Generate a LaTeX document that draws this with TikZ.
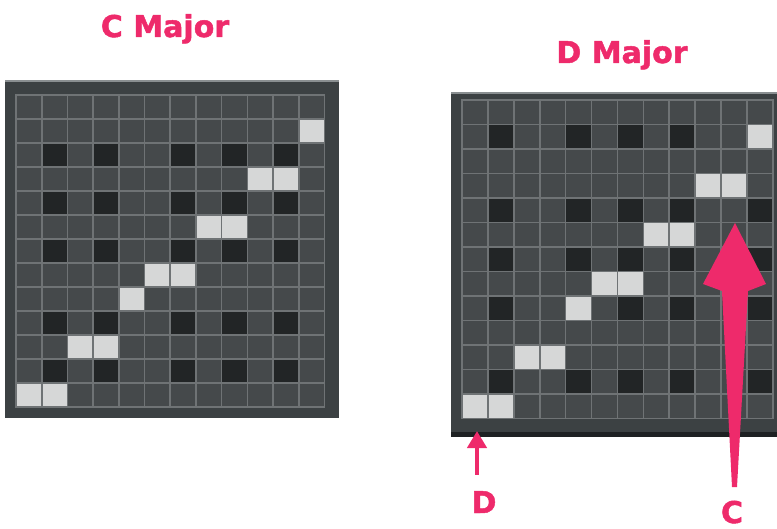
\documentclass[tikz,border=0pt]{standalone}
\usepackage{fontspec}
\setmainfont{DejaVu Sans}
\newfontfamily\headfont[BoldFeatures={FakeBold=1.6}]{DejaVu Sans}
\usetikzlibrary{arrows.meta,positioning}
\definecolor{framegray}{HTML}{3C4143}
\definecolor{framelight}{HTML}{8A8F91}
\definecolor{framedark}{HTML}{1E2123}
\definecolor{cellgray}{HTML}{45494B}
\definecolor{gridgray}{HTML}{6F7375}
\definecolor{keyblack}{HTML}{222526}
\definecolor{notewhite}{HTML}{D6D7D7}
\definecolor{markpink}{HTML}{EE2A6B}
\newcommand{\chordnotes}{11/1,9/3,10/3,7/5,8/5,5/7,6/7,4/8,2/10,3/10,0/12,1/12}

\begin{document}
\begin{tikzpicture}[x=1pt, y=-1pt,
  title/.style={text=markpink, font=\headfont\bfseries\fontsize{30}{36}\selectfont, inner sep=0pt, anchor=base},
  cell/.style={fill=cellgray, draw=gridgray, line width=1.6pt},
  keycell/.style={cell, fill=keyblack},
  notecell/.style={cell, fill=notewhite},
  pinkarrow/.style={draw=markpink, line width=4.5pt, -{Triangle[length=17pt, width=19pt]}}]
  \useasboundingbox (0,0) rectangle (777,529);

  % C major roll
  \fill[framegray] (5,80) rectangle (339,418);
  \draw[framelight, line width=1.5pt] (5,81) -- (339,81);
  \begin{scope}[shift={(16,95)}, x=25.7pt, y=-24pt]
    \foreach \c in {0,...,11}
      \foreach \r in {0,...,12}
        \path[cell] (\c,\r) rectangle ++(1,1);
    \foreach \r in {2,4,6,9,11}
      \foreach \c in {1,3,6,8,10}
        \path[keycell] (\c,\r) rectangle ++(1,1);
    \foreach \c/\r in \chordnotes
      \path[notecell] (\c,\r) rectangle ++(1,1);
  \end{scope}

  % D major roll
  \fill[framegray] (451,92) rectangle (777,432);
  \fill[framedark] (451,432) rectangle (777,437);
  \draw[framelight, line width=1.5pt] (451,93) -- (777,93);
  \begin{scope}[shift={(462,100)}, x=25.9pt, y=-24.5pt]
    \foreach \c in {0,...,11}
      \foreach \r in {0,...,12}
        \path[cell] (\c,\r) rectangle ++(1,1);
    \foreach \r in {1,4,6,8,11}
      \foreach \c in {1,4,6,8,11}
        \path[keycell] (\c,\r) rectangle ++(1,1);
    \foreach \c/\r in \chordnotes
      \path[notecell] (\c,\r) rectangle ++(1,1);
  \end{scope}

  % labels
  \node[title] (cmajor) at (165,37) {C Major};
  \node[title] (dmajor) at (622,63) {D Major};
  \node[title] (dnote) at (484,513) {D};
  \node[title] (cnote) at (732,523) {C};

  % arrows
  \coordinate (dtip) at (477,431);
  \draw[pinkarrow] ([xshift=-7pt, yshift=16pt]dnote.north) -- (dtip);
  \coordinate (ctip) at (735,223);
  \coordinate (cfoot) at (734.5,487);
  \fill[markpink] (ctip) -- (766,284) -- (748,291) -- ([xshift=2.5pt]cfoot)
    -- ([xshift=-2.5pt]cfoot) -- (722,291) -- (703,284) -- cycle;
\end{tikzpicture}
\end{document}
